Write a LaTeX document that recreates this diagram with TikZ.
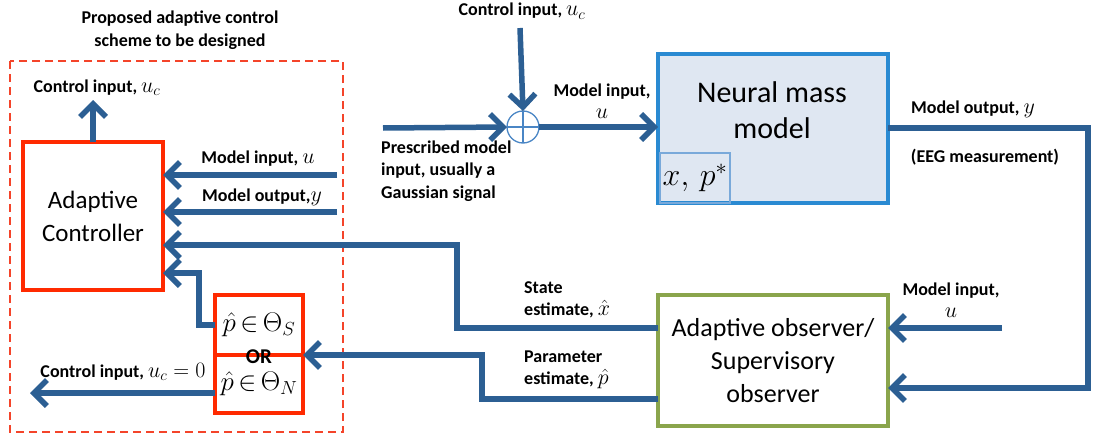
\RequirePackage{fix-cm}
\documentclass[tikz,border=0pt]{standalone}
\usepackage{fontspec}
\setmainfont{Carlito}
\usetikzlibrary{arrows.meta}
\definecolor{ablue}{HTML}{2C5F93}
\definecolor{ared}{HTML}{FF2A00}
\definecolor{dred}{HTML}{F4442A}
\definecolor{nmmfill}{HTML}{DFE7F2}
\definecolor{nmmedge}{HTML}{2A8AD2}
\definecolor{inneredge}{HTML}{79A9DA}
\definecolor{sumc}{HTML}{4A86C5}
\definecolor{ogreen}{HTML}{8AA54C}
\newcommand{\mth}[1]{{\fontsize{22}{22}\selectfont$#1$}}
\newcommand{\bigmth}[1]{{\fontsize{27}{27}\selectfont$#1$}}
\tikzset{
  conn/.style={draw=ablue, line width=5.5pt, -{Straight Barb[length=13pt,width=26pt]}},
  lbl/.style={font=\fontsize{18}{22.5}\selectfont\bfseries, inner sep=0pt},
  redbox/.style={draw=ared, line width=4pt, fill=white, inner sep=0pt, outer sep=0pt},
}
\begin{document}
\begin{tikzpicture}[x=1pt,y=-1pt]
\useasboundingbox (0,0) rectangle (1094,436);
% dashed region
\draw[dred, line width=2pt, dash pattern=on 8pt off 5pt] (10,61) rectangle (343,432);
\node[lbl, align=center] (title) at (180,30) {Proposed adaptive control\\scheme to be designed};

% blocks
\node[redbox, minimum width=140pt, minimum height=148pt, align=center,
      font=\fontsize{25}{33}\selectfont] (ctrl) at (93,216) {Adaptive\\Controller};
\node[redbox, minimum width=88pt, minimum height=60pt] (orS) at (259,325) {\bigmth{\hat{p}\,{\in}\,\Theta_S}};
\node[redbox, minimum width=88pt, minimum height=58pt] (orN) at (259,384) {\bigmth{\hat{p}\,{\in}\,\Theta_N}};
\node[font=\fontsize{21}{21}\selectfont\bfseries, inner sep=0pt] (or) at (259,357) {OR};

\node[draw=nmmedge, fill=nmmfill, line width=4pt, outer sep=0pt, minimum width=230pt, minimum height=149pt] (nmm) at (773,128.5) {};
\node[font=\fontsize{30}{36}\selectfont, align=center, inner sep=0pt] (nmmtxt) at (772,110) {Neural mass\\model};
\node[draw=inneredge, line width=2pt, minimum width=70pt, minimum height=50pt, inner sep=0pt] (inner) at (695,178) {\fontsize{32}{32}\selectfont$x,\,p^{*}$};

\node[draw=ogreen, line width=4pt, fill=white, outer sep=0pt, minimum width=230pt, minimum height=131pt, align=center,
      font=\fontsize{26}{33}\selectfont] (obs) at (773,360.5) {Adaptive observer/\\Supervisory\\observer};

\node[circle, draw=sumc, line width=1.3pt, minimum size=32pt, inner sep=0pt, outer sep=0pt] (sum) at (523,127) {};
\draw[sumc, line width=1.1pt] (sum.north) -- (sum.south) (sum.west) -- (sum.east);

% coordinates
\coordinate (ucTop) at (93,100);
\coordinate (mi1) at (337,175);
\coordinate (mo1) at (337,212);
\coordinate (y245) at (0,245);
\coordinate (y273) at (0,273);
\coordinate (y328) at (0,328);
\coordinate (y388) at (0,388);
\coordinate (y393) at (0,393);
\coordinate (y399) at (0,399);
\coordinate (y128) at (0,128);
\coordinate (seA) at (457,328);
\coordinate (seB) at (457,245);
\coordinate (peA) at (482,399);
\coordinate (peB) at (482,355);
\coordinate (osA) at (199,325);
\coordinate (osB) at (199,273);
\coordinate (uc0) at (30,393);
\coordinate (presc) at (383,128);
\coordinate (uctop2) at (520,28);
\coordinate (outA) at (1088,128);
\coordinate (outB) at (1088,388);
\coordinate (mi2) at (1002,328);

% connectors
\draw[conn] (ctrl.north) -- (ucTop);
\draw[conn] (mi1) -- (ctrl.east |- mi1);
\draw[conn] (mo1) -- (ctrl.east |- mo1);
\draw[conn] (obs.west |- y328) -- (seA) -- (seB) -- (ctrl.east |- y245);
\draw[conn] (obs.west |- y399) -- (peA) -- (peB) -- (orN.east |- peB);
\draw[conn] (orS.west) -- (osA) -- (osB) -- (ctrl.east |- y273);
\draw[conn] (orN.west |- y393) -- (uc0);
\draw[conn] (presc) -- (sum.west);
\draw[conn] (uctop2) -- (sum.north);
\draw[conn] (sum.east) -- (nmm.west |- sum.east);
\draw[conn] (nmm.east |- y128) -- (outA) -- (outB) -- (obs.east |- y388);
\draw[conn] (mi2) -- (obs.east |- mi2);

% labels
\node[lbl] (l1) at (97,88) {Control input,\ \mth{u_c}};
\node[lbl] (l2) at (258,159) {Model input,\ \mth{u}};
\node[lbl] (l3) at (262,197) {Model output,\mth{y}};
\node[lbl, anchor=north] (l4) at (522,3) {Control input,\ \mth{u_c}};
\node[lbl, align=center] (l5) at (602,101) {Model input,\\\mth{u}};
\node[lbl, align=left, anchor=west] (l6) at (381,171) {Prescribed model\\input, usually a\\Gaussian signal};
\node[lbl] (l7) at (973,109) {Model output,\ \mth{y}};
\node[lbl] (l8) at (985,157) {(EEG measurement)};
\node[lbl, align=center] (l9) at (951,300) {Model input,\\\mth{u}};
\node[lbl, align=left, anchor=west] (l10) at (524,300) {State\\estimate,\ \mth{\hat{x}}};
\node[lbl, align=left, anchor=west] (l11) at (524,370) {Parameter\\estimate,\ \mth{\hat{p}}};
\node[lbl] (l12) at (123,372) {Control input,\ \mth{u_c=0}};
\end{tikzpicture}
\end{document}
